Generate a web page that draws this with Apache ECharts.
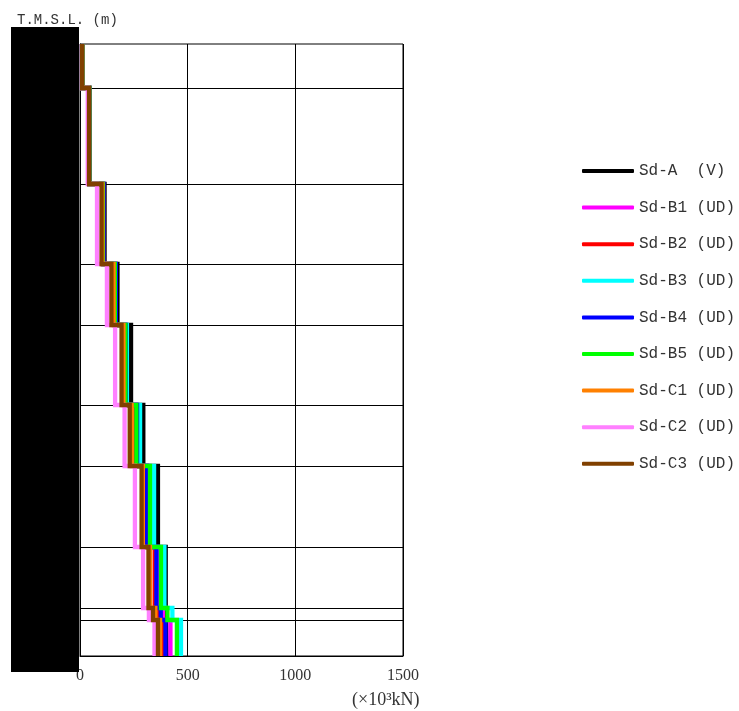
<!DOCTYPE html>
<html>
<head>
<meta charset="utf-8">
<script src="https://cdn.jsdelivr.net/npm/echarts@6/dist/echarts.min.js"></script>
<style>html,body{margin:0;padding:0;background:#fff}#c{width:739px;height:711px}</style>
</head>
<body>
<div id="c"></div>
<script>
// Floor levels (T.M.S.L., m), top to bottom
const levels = [47.5, 43.1, 33.5, 25.5, 19.4, 11.4, 5.3, -2.8, -8.9, -10.1, -13.7];
// Story shear values (x10^3 kN), one per story, top to bottom
const sdA  = [12, 45, 114, 174, 237, 294, 362, 398, 400, 402];
const sdB1 = [11, 43, 106, 162, 210, 262, 318, 360, 385, 420];
const sdB2 = [11, 43, 108, 164, 208, 258, 309, 347, 365, 388];
const sdB3 = [11, 43, 107, 164, 218, 279, 344, 392, 429, 469];
const sdB4 = [11, 43, 109, 166, 212, 265, 312, 355, 375, 397];
const sdB5 = [11, 43, 106, 162, 211, 262, 325, 376, 406, 450];
const sdC1 = [10, 42, 104, 156, 202, 240, 292, 325, 350, 372];
const sdC2 = [9, 36, 79, 125, 163, 207, 255, 293, 320, 346];
const sdC3 = [10, 42, 100, 146, 193, 231, 286, 318, 339, 362];
const seriesNames = ['Sd-A  (V)', 'Sd-B1 (UD)', 'Sd-B2 (UD)', 'Sd-B3 (UD)', 'Sd-B4 (UD)', 'Sd-B5 (UD)', 'Sd-C1 (UD)', 'Sd-C2 (UD)', 'Sd-C3 (UD)'];
const seriesColors = ['#000000', '#ff00ff', '#ff0000', '#00ffff', '#0000ff', '#00ff00', '#ff8000', '#ff80ff', '#804000'];
const seriesValues = [sdA, sdB1, sdB2, sdB3, sdB4, sdB5, sdC1, sdC2, sdC3];
const xTicks = [0, 500, 1000, 1500];

function stepData(vals) {
  const d = [];
  for (let i = 0; i < vals.length; i++) {
    d.push([vals[i], levels[i]]);
    d.push([vals[i], levels[i + 1]]);
  }
  return d;
}

const chart = echarts.init(document.getElementById('c'), null, {renderer: 'canvas'});
const series = [{
  name: '_grid', type: 'line', data: [], z: 1, silent: true,
  markLine: {
    silent: true, symbol: 'none', label: {show: false}, animation: false,
    lineStyle: {color: '#000', width: 1, type: 'solid'},
    data: levels.slice(1, levels.length - 1).map(l => ({yAxis: l}))
  }
}];
seriesValues.forEach((vals, i) => {
  series.push({
    name: seriesNames[i], type: 'line', data: stepData(vals),
    showSymbol: false, symbol: 'none', z: 3 + i,
    lineStyle: {color: seriesColors[i], width: 4.3, join: 'miter'},
    itemStyle: {color: seriesColors[i]},
    animation: false
  });
});

chart.setOption({
  animation: false,
  backgroundColor: '#fff',
  grid: {left: 80, right: 336, top: 44, bottom: 55, show: true, borderColor: '#000', borderWidth: 1, backgroundColor: 'transparent'},
  xAxis: {
    type: 'value', min: xTicks[0], max: xTicks[xTicks.length - 1], interval: 500,
    axisLine: {show: true, onZero: false, lineStyle: {color: '#000', width: 1}},
    axisTick: {show: false},
    splitLine: {show: true, lineStyle: {color: '#000', width: 1}},
    axisLabel: {color: '#333', fontFamily: 'Liberation Serif', fontSize: 16, margin: 12, formatter: v => String(v)}
  },
  yAxis: {
    type: 'value', min: levels[levels.length - 1], max: levels[0],
    axisLine: {show: true, onZero: false, lineStyle: {color: '#000'}},
    axisTick: {show: false}, splitLine: {show: false}, axisLabel: {show: false}
  },
  legend: {
    data: seriesNames, orient: 'vertical', left: 577, top: 158,
    itemWidth: 52, itemHeight: 4, itemGap: 20.6, icon: 'roundRect',
    textStyle: {color: '#333', fontFamily: 'Liberation Mono', fontSize: 16}
  },
  graphic: [
    {type: 'text', left: 17, top: 13, z: 10, style: {text: 'T.M.S.L. (m)', fill: '#333', font: '14px "Liberation Mono"'}},
    {type: 'text', left: 352, top: 691, z: 10, style: {text: '(×10³kN)', fill: '#333', font: '18px "Liberation Serif"'}},
    {type: 'rect', left: 11, top: 27, z: 100, shape: {width: 68, height: 645}, style: {fill: '#000'}}
  ],
  series: series
});
</script>
</body>
</html>
